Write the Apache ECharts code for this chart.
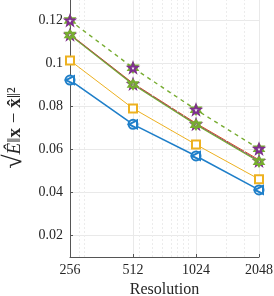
<!DOCTYPE html>
<html><head><meta charset="utf-8">
<script src="https://cdn.jsdelivr.net/npm/echarts@6/dist/echarts.min.js"></script>
<style>html,body{margin:0;padding:0;background:#fff}#c{width:274px;height:296px}</style>
</head><body><div id="c"></div>
<script>
var resolutions = [256, 512, 1024, 2048];
var xTicks = [256, 512, 1024, 2048];
var yTicks = [0.02, 0.04, 0.06, 0.08, 0.10, 0.12];
var blueVals = [0.0923, 0.0717, 0.0570, 0.0412];
var yellowVals = [0.1014, 0.0791, 0.0623, 0.0462];
var orangeVals = [0.1136, 0.0908, 0.0722, 0.0552];
var purpleVals = [0.1134, 0.0905, 0.0718, 0.0547];
var greenVals = [0.1132, 0.0902, 0.0715, 0.0543];
var greenDashVals = [0.1200, 0.0980, 0.0785, 0.0603];
var minorGridX = [282, 300, 547, 632, 704, 778, 835, 889, 944, 1430, 1748];

var FONT = '"Liberation Serif", "DejaVu Serif", serif';
var hexagram = 'emptyPath://M0,-10 L8.66,5 L-8.66,5 Z M0,10 L8.66,-5 L-8.66,-5 Z';
var star = 'emptyPath://M0,-10 L2.35,-3.24 L9.51,-3.09 L3.8,1.24 L5.88,8.09 L0,4 L-5.88,8.09 L-3.8,1.24 L-9.51,-3.09 L-2.35,-3.24 Z';

function pts(vals){ return resolutions.map(function(r,i){ return [r, vals[i]]; }); }

function lineSeries(name, vals, color, symbol, size, width, type, z, bw){
  return {
    name: name, type: 'line', data: pts(vals), z: z,
    symbol: symbol, symbolSize: size, showSymbol: true,
    lineStyle: {color: color, width: width, type: type},
    itemStyle: {color: color, borderColor: color, borderWidth: bw || 1},
    animation: false
  };
}
function markerOnly(name, vals, color, symbol, size, z, bw){
  return {
    name: name, type: 'line', data: pts(vals), z: z,
    symbol: symbol, symbolSize: size,
    lineStyle: {width: 0, color: color, opacity: 0},
    itemStyle: {color: color, borderColor: color, borderWidth: bw || 1},
    animation: false
  };
}

var series = [
  {
    type: 'line', data: [], silent: true, animation: false,
    markLine: {
      symbol: ['none','none'], silent: true, animation: false, label: {show: false},
      lineStyle: {color: '#ececec', width: 1, type: [2,2]},
      data: minorGridX.map(function(v){ return {xAxis: v}; })
    }
  },
  lineSeries('blue', blueVals, '#1f7fc9', 'emptyCircle', 9, 1.6, 'solid', 5, 1.2),
  markerOnly('blueTri', blueVals, '#1f7fc9', 'emptyTriangle', 8, 6, 1.1),
  lineSeries('yellow', yellowVals, '#EDB120', 'emptyRect', 8, 1, 'solid', 5, 1),
  lineSeries('orange', orangeVals, '#D95319', 'none', 8, 1, 'solid', 4, 1),
  lineSeries('purple', purpleVals, '#7E2F8E', star, 9, 1, 'solid', 5, 0.8),
  lineSeries('green', greenVals, '#77AC30', hexagram, 9, 1.2, 'solid', 6, 1),
  lineSeries('greenDash', greenDashVals, '#77AC30', hexagram, 9, 1.4, [4,4], 6, 1),
  markerOnly('purpleDash', greenDashVals, '#7E2F8E', star, 9, 7, 0.8)
];
series[2].symbolRotate = 90;

var chart = echarts.init(document.getElementById('c'), null, {renderer: 'canvas'});
chart.setOption({
  backgroundColor: '#fff',
  animation: false,
  grid: {left: 70, right: 15, top: -1, bottom: 39, containLabel: false, outerBoundsMode: 'none'},
  xAxis: {
    type: 'log', logBase: 2, min: 256, max: 2048,
    name: 'Resolution', nameLocation: 'middle', nameGap: 24,
    nameTextStyle: {fontFamily: FONT, fontSize: 16, color: '#262626'},
    axisLine: {show: true, lineStyle: {color: '#555', width: 1}},
    axisTick: {show: true, inside: true, length: 3, customValues: xTicks, lineStyle: {color: '#555'}},
    axisLabel: {customValues: xTicks, fontFamily: FONT, fontSize: 14, color: '#262626', margin: 6,
      showMinLabel: true, showMaxLabel: true,
      formatter: function(v){ return String(Math.round(v)); }},
    splitLine: {show: true, lineStyle: {color: '#e9e9e9', width: 1}},
    minorTick: {show: false}, minorSplitLine: {show: false}
  },
  yAxis: {
    type: 'value', min: 0.01, max: 0.13,
    name: '{r|√}{e|Ê}{n|‖}{b|x}{n| − }{b|x̂}{n|‖²}', nameLocation: 'middle', nameGap: 33, nameRotate: 90,
    nameTextStyle: {
      fontFamily: FONT, fontSize: 19, color: '#262626',
      rich: {
        r: {fontFamily: FONT, fontSize: 26, color: '#262626'},
        e: {fontFamily: FONT, fontSize: 19, fontStyle: 'italic', color: '#262626'},
        n: {fontFamily: FONT, fontSize: 19, color: '#262626'},
        b: {fontFamily: FONT, fontSize: 19, fontWeight: 'bold', color: '#262626'}
      }
    },
    axisLine: {show: true, lineStyle: {color: '#555', width: 1}},
    axisTick: {show: true, inside: true, length: 3, customValues: yTicks, lineStyle: {color: '#555'}},
    axisLabel: {customValues: yTicks, fontFamily: FONT, fontSize: 14, color: '#262626', margin: 7,
      formatter: function(v){ return String(Math.round(v*100)/100); }},
    splitLine: {show: true, lineStyle: {color: '#e9e9e9', width: 1}}
  },
  series: series
});
</script></body></html>
